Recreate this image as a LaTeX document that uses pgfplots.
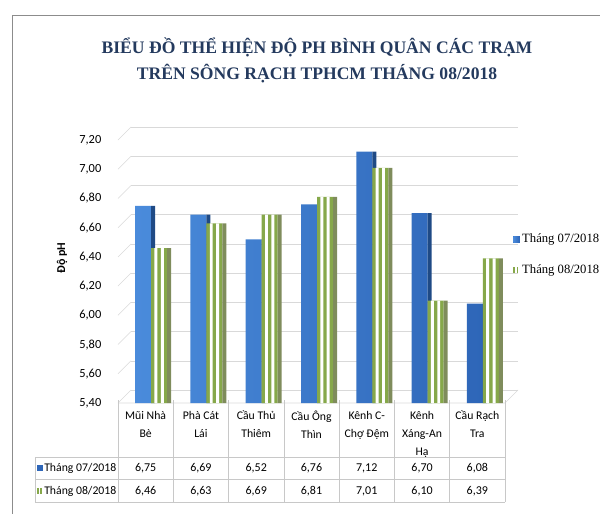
\documentclass[border=0pt]{standalone}
\usepackage{fontspec}
\setmainfont{Carlito}
\newfontfamily\timesfont{Liberation Serif}
\usepackage{pgfplots}
\usepackage{pgfplotstable}
\pgfplotsset{compat=1.18}
\definecolor{titlec}{HTML}{243A5E}
\definecolor{blueL}{HTML}{4A8BDB}
\definecolor{blueR}{HTML}{2E66B8}
\definecolor{blueS}{HTML}{1F4A85}
\definecolor{grn}{HTML}{86A84A}
\definecolor{grnS}{HTML}{7F8C5C}
\definecolor{gridc}{HTML}{D9D9D9}
\definecolor{tabc}{HTML}{C8C8C8}
\definecolor{framec}{HTML}{8C8C8C}

\pgfplotstableread{
x jul aug
0 6.75 6.46
1 6.69 6.63
2 6.52 6.69
3 6.76 6.81
4 7.12 7.01
5 6.70 6.10
6 6.08 6.39
}\data

\begin{document}
\begin{tikzpicture}
\useasboundingbox (0pt,0pt) rectangle (450pt,-385.5pt);
\begin{scope}[x=0.75pt,y=-0.75pt]
  \draw[framec] (12,540) -- (12,15) -- (620,15);
  \node[font=\timesfont\bfseries\fontsize{13.2}{19.5}\selectfont, text=titlec, align=center] at (317,60)
    {BIỂU ĐỒ THỂ HIỆN ĐỘ PH BÌNH QUÂN CÁC TRẠM\\TRÊN SÔNG RẠCH TPHCM THÁNG 08/2018};
  \node[rotate=90, font=\bfseries\fontsize{9}{11}\selectfont] at (62,258) {Độ pH};
  % 3D wall stubs and floor
  \foreach \k in {0,...,9} \draw[gridc] (118,{403-\k*263/9}) -- ++(13,-13);
  \draw[gridc] (118,403) -- (505,403) -- (518,390);
\end{scope}

\begin{axis}[
  at={(88.5pt,-302.25pt)}, anchor=south west,
  width=290.25pt, height=197.25pt, scale only axis,
  xmin=-0.5, xmax=6.5, ymin=5.4, ymax=7.2,
  ytick={5.4,5.6,5.8,6.0,6.2,6.4,6.6,6.8,7.0,7.2},
  yticklabel style={/pgf/number format/fixed, /pgf/number format/fixed zerofill,
    /pgf/number format/precision=2, /pgf/number format/use comma, /pgf/number format/assume math mode=true,
    font=\fontsize{9.3}{11}\selectfont, xshift=-9pt},
  xtick=data,
  xticklabels={{Mũi Nhà\\Bè},{Phà Cát\\Lái},{Cầu Thủ\\Thiêm},{Cầu Ông\\Thìn},{Kênh C-\\Chợ Đệm},{Kênh\\Xáng-An\\Hạ},{Cầu Rạch\\Tra}},
  xticklabel style={align=center, font=\fontsize{8.8}{13.6}\selectfont, anchor=north, yshift=-2.5pt},
  axis line style={draw=none},
  major tick length=0pt,
  ymajorgrids,
  major grid style={gridc, xshift=9.75pt, yshift=9.75pt},
  clip=false,
  legend style={draw=none, fill=none, at={(axis description cs:1.021,0.563)}, anchor=west,
    font=\timesfont\fontsize{9.5}{11}\selectfont, row sep=11pt, inner sep=0pt},
  legend cell align=left,
]
\addplot[ybar, bar width=12pt, bar shift=-1.875pt, draw=none, left color=blueL, right color=blueR,
  legend image code/.code={\fill[blueR] (0pt,-2.3pt) rectangle (4.6pt,2.3pt);}]
  table[x=x, y=jul] {\data};
\addlegendentry{Tháng 07/2018}
\addplot[ybar, bar width=3pt, bar shift=5.625pt, draw=none, fill=blueS, forget plot]
  table[x=x, y=jul] {\data};
\addplot[ybar, bar width=12pt, bar shift=10.125pt, draw=none, fill=grn,
  legend image code/.code={\fill[white] (0pt,-2.3pt) rectangle (4.6pt,2.3pt);
     \fill[grn] (0pt,-2.3pt) rectangle (1.2pt,2.3pt); \fill[grn] (2.4pt,-2.3pt) rectangle (3.6pt,2.3pt);}]
  table[x=x, y=aug] {\data};
\addlegendentry{Tháng 08/2018}
\addplot[ybar, bar width=2.2pt, bar shift=7.725pt, draw=none, fill=white, forget plot]
  table[x=x, y=aug] {\data};
\addplot[ybar, bar width=2.2pt, bar shift=12.525pt, draw=none, fill=white, forget plot]
  table[x=x, y=aug] {\data};
\addplot[ybar, bar width=3pt, bar shift=17.625pt, draw=none, fill=grnS, forget plot]
  table[x=x, y=aug] {\data};
\end{axis}

\begin{scope}[x=0.75pt,y=-0.75pt]
  % data table
  \foreach \i in {0,...,7} \draw[tabc] ({118+55.2857*\i},400) -- ({118+55.2857*\i},502);
  \draw[tabc] (35,457) -- (505,457);
  \draw[tabc] (35,479) -- (505,479);
  \draw[tabc] (35,502) -- (505,502);
  \draw[tabc] (35,457) -- (35,502);
  \fill[blueR] (37,465) rectangle (43,471);
  \fill[white] (37,488) rectangle (43,494);
  \fill[grn] (37,488) rectangle (38.5,494);
  \fill[grn] (40,488) rectangle (41.5,494);
  \node[anchor=west, font=\fontsize{8.8}{10}\selectfont, inner sep=0pt] at (44,468) {Tháng 07/2018};
  \node[anchor=west, font=\fontsize{8.8}{10}\selectfont, inner sep=0pt] at (44,491) {Tháng 08/2018};
  \foreach \i in {0,...,6} {
    \pgfplotstablegetelem{\i}{jul}\of\data
    \node[font=\fontsize{9}{10}\selectfont] at ({145.64+55.2857*\i},468)
      {\pgfmathprintnumber[fixed, fixed zerofill, precision=2, use comma, assume math mode=true]{\pgfplotsretval}};
    \pgfplotstablegetelem{\i}{aug}\of\data
    \node[font=\fontsize{9}{10}\selectfont] at ({145.64+55.2857*\i},491)
      {\pgfmathprintnumber[fixed, fixed zerofill, precision=2, use comma, assume math mode=true]{\pgfplotsretval}};
  }
\end{scope}
\end{tikzpicture}
\end{document}
